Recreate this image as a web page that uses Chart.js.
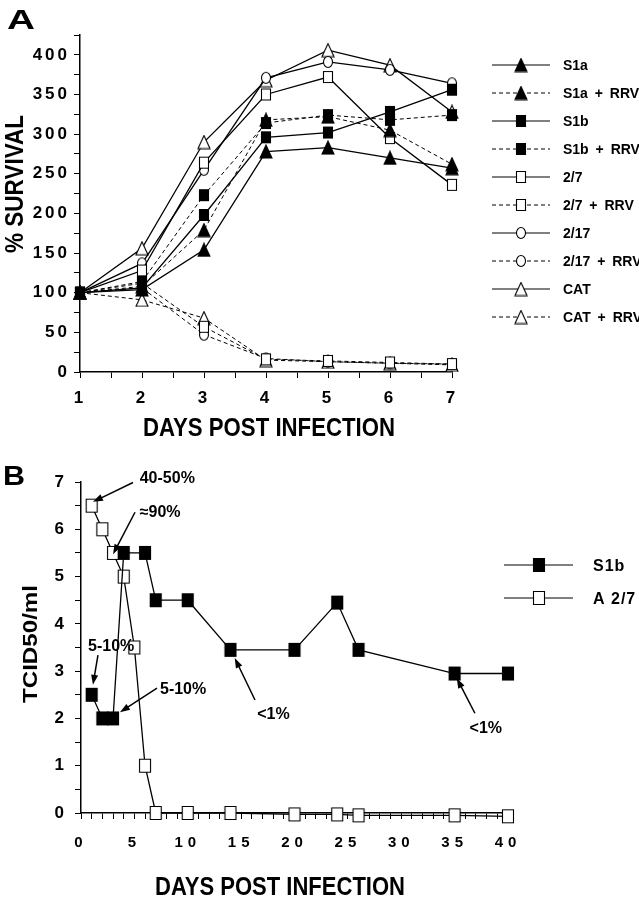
<!DOCTYPE html>
<html>
<head>
<meta charset="utf-8">
<script src="https://cdn.jsdelivr.net/npm/chart.js@4.4.1/dist/chart.umd.min.js"></script>
<style>
  body { margin: 0; background: #fff; }
  canvas { display: block; }
</style>
</head>
<body>
<canvas id="chartA" width="639" height="450"></canvas>
<canvas id="chartB" width="639" height="450"></canvas>
<script>
// ---- panel A: % survival, days 1-7
const daysA = [1, 2, 3, 4, 5, 6, 7];
const namesA = ['S1a', 'S1a + RRV', 'S1b', 'S1b + RRV', '2/7', '2/7 + RRV', '2/17', '2/17 + RRV', 'CAT', 'CAT + RRV'];
const s1a = [100, 104, 154, 278, 283, 270, 257];
const s1aRrv = [100, 108, 179, 318, 322, 305, 262];
const s1b = [100, 106, 198, 296, 302, 328, 356];
const s1bRrv = [100, 114, 223, 314, 324, 318, 324];
const a27 = [100, 128, 264, 350, 372, 295, 236];
const a27Rrv = [100, 112, 57, 16, 14, 12, 10];
const a217 = [100, 137, 255, 371, 391, 381, 364];
const a217Rrv = [100, 106, 47, 17, 13, 11, 10];
const cat = [100, 156, 290, 368, 406, 387, 328];
const catRrv = [100, 91, 68, 15, 13, 11, 9];

// ---- panel B: TCID50/ml over 40 days
const s1bDays = [1, 2, 3, 4, 6, 7, 10, 14, 20, 24, 26, 35, 40];
const s1bTcid = [2.5, 2, 2, 5.5, 5.5, 4.5, 4.5, 3.45, 3.45, 4.45, 3.45, 2.95, 2.95];
const a27Days = [1, 2, 3, 4, 5, 6, 7, 10, 14, 20, 24, 26, 35, 40];
const a27Tcid = [6.5, 6, 5.5, 5, 3.5, 1, 0, 0, 0, -0.03, -0.03, -0.05, -0.05, -0.07];

const noteText = ['40-50%', '\u224890%', '5-10%', '5-10%', '<1%', '<1%'];
const noteAt = [[5.5, 7.1], [5.5, 6.38], [0.66, 3.55], [7.4, 2.64], [16.5, 2.11], [36.4, 1.82]];
const noteTail = [[4.87, 6.99], [5.06, 6.36], [1.59, 3.34], [7.12, 2.64], [16.3, 2.39], [36.9, 2.11]];
const noteTip = [[1.12, 6.58], [3.0, 5.47], [1.12, 2.71], [3.65, 2.13], [14.4, 3.28], [35.2, 2.85]];

const FONT = "'Liberation Sans', Arial, Helvetica, sans-serif";

function marker(shape, filled, w, h) {
    const c = document.createElement('canvas');
    c.width = w + 2;
    c.height = h + 2;
    const g = c.getContext('2d');
    g.lineWidth = 1.1;
    g.strokeStyle = '#000';
    g.fillStyle = filled ? '#000' : '#fff';
    g.beginPath();
    if (shape === 'tri') {
        g.moveTo(1 + w / 2, 1);
        g.lineTo(1 + w, 1 + h);
        g.lineTo(1, 1 + h);
        g.closePath();
    } else if (shape === 'sq') {
        g.rect(1.5, 1.5, w - 1, h - 1);
    } else {
        g.ellipse(1 + w / 2, 1 + h / 2, w / 2 - 0.5, h / 2 - 0.5, 0, 0, Math.PI * 2);
    }
    g.fill();
    g.stroke();
    return c;
}

const triFill = marker('tri', true, 12, 13);
const triOpen = marker('tri', false, 12, 13);
const sqFill = marker('sq', true, 10, 12);
const sqOpen = marker('sq', false, 10, 12);
const circOpen = marker('circ', false, 10, 12);
const sqFillB = marker('sq', true, 12, 14);
const sqOpenB = marker('sq', false, 12, 14);

function fitText(ctx, text, cx, cy, size, width, angle) {
    ctx.save();
    ctx.font = `bold ${size}px ${FONT}`;
    const w = ctx.measureText(text).width;
    ctx.translate(cx, cy);
    ctx.rotate(angle || 0);
    ctx.scale(width / w, 1);
    ctx.textAlign = 'center';
    ctx.textBaseline = 'alphabetic';
    ctx.fillText(text, 0, size * 0.358);
    ctx.restore();
}

function leftText(ctx, text, x, cy, size) {
    ctx.font = `bold ${size}px ${FONT}`;
    ctx.textAlign = 'left';
    ctx.textBaseline = 'alphabetic';
    ctx.fillText(text, x, cy + size * 0.358);
}

function arrow(ctx, x1, y1, x2, y2) {
    const a = Math.atan2(y2 - y1, x2 - x1);
    ctx.beginPath();
    ctx.moveTo(x1, y1);
    ctx.lineTo(x2 - 7 * Math.cos(a), y2 - 7 * Math.sin(a));
    ctx.lineWidth = 1.5;
    ctx.stroke();
    ctx.beginPath();
    ctx.moveTo(x2, y2);
    ctx.lineTo(x2 - 10 * Math.cos(a) + 3.5 * Math.sin(a), y2 - 10 * Math.sin(a) - 3.5 * Math.cos(a));
    ctx.lineTo(x2 - 10 * Math.cos(a) - 3.5 * Math.sin(a), y2 - 10 * Math.sin(a) + 3.5 * Math.cos(a));
    ctx.closePath();
    ctx.fill();
}

function series(label, xs, ys, img, dashed) {
    return {
        label: label,
        data: xs.map((x, i) => ({ x: x, y: ys[i] })),
        borderColor: '#000',
        backgroundColor: '#000',
        borderWidth: dashed ? 1 : 1.3,
        borderDash: dashed ? [4, 3] : [],
        pointStyle: img,
        pointRadius: 6,
        fill: false,
        tension: 0,
        clip: false
    };
}

function axis(min, max, step, labelEvery, size, pad, fitKey, fitVal) {
    return {
        type: 'linear',
        min: min,
        max: max,
        grid: { display: true, drawOnChartArea: false, drawTicks: true, tickLength: 6, color: '#000', lineWidth: 1 },
        border: { display: true, color: '#000', width: 1.5 },
        ticks: {
            stepSize: step,
            autoSkip: false,
            maxRotation: 0,
            padding: pad,
            color: '#000',
            font: { family: FONT, size: size, weight: 'bold' },
            callback: (v) => (Math.abs(v / labelEvery - Math.round(v / labelEvery)) < 1e-6 ? v : '')
        },
        afterFit: (scale) => { scale[fitKey] = fitVal; }
    };
}

function spacingPlugin(space) {
    return {
        id: 'spacing',
        beforeDraw(chart) { chart.ctx.letterSpacing = space; }
    };
}

// panel A
const dataA = [s1a, s1aRrv, s1b, s1bRrv, a27, a27Rrv, a217, a217Rrv, cat, catRrv];
const imgsA = [triFill, triFill, sqFill, sqFill, sqOpen, sqOpen, circOpen, circOpen, triOpen, triOpen];

const decorA = {
    id: 'decorA',
    afterDraw(chart) {
        const ctx = chart.ctx;
        ctx.save();
        ctx.letterSpacing = '0px';
        ctx.fillStyle = '#000';
        ctx.strokeStyle = '#000';
        fitText(ctx, 'A', 21, 19, 28, 28, 0);
        fitText(ctx, '% SURVIVAL', 14, 184, 25, 138, -Math.PI / 2);
        fitText(ctx, 'DAYS POST INFECTION', 269, 427, 26, 252, 0);
        chart.data.datasets.forEach((ds, i) => {
            const y = 65 + i * 28;
            ctx.beginPath();
            ctx.setLineDash(ds.borderDash);
            ctx.lineWidth = 1;
            ctx.moveTo(492, y);
            ctx.lineTo(550, y);
            ctx.stroke();
            ctx.setLineDash([]);
            const img = ds.pointStyle;
            ctx.drawImage(img, 521 - img.width / 2, y - img.height / 2);
            ctx.wordSpacing = '3px';
            leftText(ctx, ds.label, 563, y, 14);
            ctx.wordSpacing = '0px';
        });
        ctx.restore();
    }
};

new Chart(document.getElementById('chartA'), {
    type: 'line',
    data: { datasets: namesA.map((n, i) => series(n, daysA, dataA[i], imgsA[i], i % 2 === 1)) },
    options: {
        responsive: false,
        animation: false,
        layout: { padding: { left: 0, top: 35, right: 187, bottom: 0 } },
        plugins: { legend: { display: false }, tooltip: { enabled: false } },
        scales: {
            x: axis(1, 7, 0.5, 1, 17, 10, 'height', 78),
            y: axis(0, 425, 25, 50, 17, 4, 'width', 80)
        }
    },
    plugins: [spacingPlugin('3px'), decorA]
});

// panel B
const decorB = {
    id: 'decorB',
    afterDraw(chart) {
        const ctx = chart.ctx;
        const xs = chart.scales.x;
        const ys = chart.scales.y;
        ctx.save();
        ctx.letterSpacing = '0px';
        ctx.fillStyle = '#000';
        ctx.strokeStyle = '#000';
        fitText(ctx, 'B', 14, 25, 28, 22, 0);
        fitText(ctx, 'TCID50/ml', 29, 194, 21, 118, -Math.PI / 2);
        fitText(ctx, 'DAYS POST INFECTION', 280, 436, 25, 250, 0);
        noteText.forEach((t, i) => {
            leftText(ctx, t, xs.getPixelForValue(noteAt[i][0]), ys.getPixelForValue(noteAt[i][1]), 16);
            arrow(ctx,
                xs.getPixelForValue(noteTail[i][0]), ys.getPixelForValue(noteTail[i][1]),
                xs.getPixelForValue(noteTip[i][0]), ys.getPixelForValue(noteTip[i][1]));
        });
        chart.data.datasets.forEach((ds, i) => {
            const y = 115 + i * 33;
            ctx.beginPath();
            ctx.lineWidth = 1;
            ctx.moveTo(504, y);
            ctx.lineTo(573, y);
            ctx.stroke();
            const img = ds.pointStyle;
            ctx.drawImage(img, 539 - img.width / 2, y - img.height / 2);
            ctx.letterSpacing = '1px';
            leftText(ctx, ds.label, 593, y, 16);
            ctx.letterSpacing = '0px';
        });
        ctx.restore();
    }
};

new Chart(document.getElementById('chartB'), {
    type: 'line',
    data: {
        datasets: [
            series('S1b', s1bDays, s1bTcid, sqFillB, false),
            series('A 2/7', a27Days, a27Tcid, sqOpenB, false)
        ]
    },
    options: {
        responsive: false,
        animation: false,
        layout: { padding: { left: 0, top: 32, right: 131, bottom: 0 } },
        plugins: { legend: { display: false }, tooltip: { enabled: false } },
        scales: {
            x: axis(0, 40, 1, 5, 15, 15, 'height', 87),
            y: axis(0, 7, 0.5, 1, 17, 6, 'width', 81)
        }
    },
    plugins: [spacingPlugin('5px'), decorB]
});
</script>
</body>
</html>
